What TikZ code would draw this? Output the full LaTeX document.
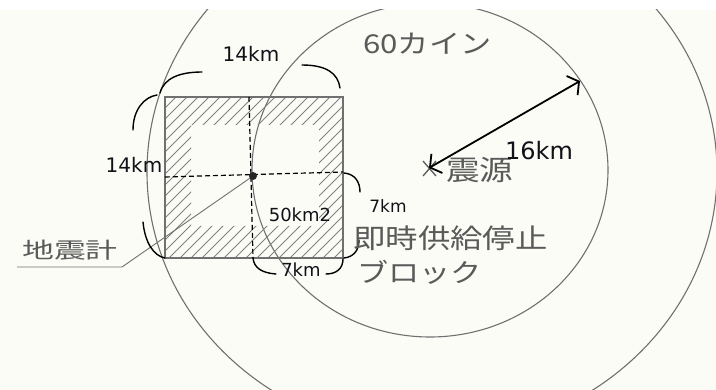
\documentclass[tikz,border=0pt]{standalone}
\usepackage{fontspec}
\usetikzlibrary{arrows.meta}
\newfontfamily\latf{DejaVu Sans}
\newfontfamily\cjka[FakeStretch=1.2]{Noto Sans CJK JP}
\newfontfamily\cjkb[FakeStretch=1.45]{Noto Sans CJK JP}
\definecolor{paper}{HTML}{FCFCF7}
\definecolor{pencil}{HTML}{707070}
\definecolor{hatchc}{HTML}{808080}
\definecolor{inkg}{HTML}{5A5A5A}
\definecolor{lbl}{HTML}{111118}
\begin{document}
\begin{tikzpicture}[x=1pt,y=-1pt,
  circ/.style={draw=pencil,line width=1.1pt},
  sqline/.style={draw=pencil,line width=1.1pt},
  hatchln/.style={draw=hatchc,line width=0.9pt},
  dashln/.style={draw=black,line width=1.2pt,dash pattern=on 5pt off 3pt},
  brace/.style={draw=black,line width=1.4pt,line cap=round},
  leader/.style={draw=pencil,line width=0.9pt},
  km/.style={font=\latf\fontsize{19}{19}\selectfont,text=lbl,inner sep=0pt},
  jp/.style={font=\cjka\fontsize{26}{26}\selectfont,text=inkg,inner sep=0pt},
  dbl/.style={draw=black,line width=1.8pt,{Straight Barb[length=8pt,width=22pt]}-{Straight Barb[length=8pt,width=22pt]}}
]
\useasboundingbox (0,0) rectangle (716,390);
\fill[white] (0,0) rectangle (716,390);
\fill[paper] (0,10) rectangle (716,390);
% circles (contours)
\begin{scope}
  \clip (0,10) rectangle (716,390);
  \draw[circ] (430,170) ellipse [x radius=178, y radius=167];
  \draw[circ] (432,172) ellipse [x radius=285, y radius=264];
\end{scope}
% hatched frame
\begin{scope}[even odd rule]
  \clip (165,97) rectangle (343,258) (191,125) rectangle (319,226);
  \foreach \a in {-25,-14,...,350} \draw[hatchln] (\a,265) -- ++(175,-175);
\end{scope}
\draw[sqline] (165,97) rectangle (343,258);
\draw[dashln] (249,97) -- (253,258);
\draw[dashln] (165,177) -- (343,172);
% seismometer point and leader
\coordinate (meter) at (253,176);
\coordinate (bend) at (122,267);
\coordinate (lend) at (17,267);
\draw[leader] (meter) -- (bend) -- (lend);
\fill[black!85] (meter) circle (4);
\node[jp,font=\cjkb\fontsize{22}{22}\selectfont,anchor=west] (seis) at (22,250) {地震計};
% braces: top
\draw[brace] (160,93) .. controls (164,78) and (180,72) .. (202,72);
\draw[brace] (302,65) .. controls (326,65) and (338,73) .. (340,88);
\node[km,font=\latf\fontsize{20}{20}\selectfont] (topkm) at (251,54) {14km};
% braces: left
\draw[brace] (133,130) .. controls (133,110) and (144,97) .. (157,95);
\draw[brace] (143,222) .. controls (145,243) and (154,256) .. (165,258);
\node[km,font=\latf\fontsize{20}{20}\selectfont] (leftkm) at (134,165) {14km};
% braces: right
\draw[brace] (344,173) .. controls (355,174) and (360,182) .. (360,192);
\draw[brace] (359,240) .. controls (359,251) and (353,257) .. (344,258);
\node[km,font=\latf\fontsize{17}{17}\selectfont] (rightkm) at (388,206) {7km};
% braces: bottom
\draw[brace] (253,258) .. controls (254,268) and (262,273) .. (276,274);
\draw[brace] (326,274) .. controls (337,274) and (343,268) .. (343,259);
\node[km,font=\latf\fontsize{18}{18}\selectfont] (botkm) at (301,270) {7km};
% area label
\node[km,font=\latf\fontsize{18}{18}\selectfont] (area) at (300,215) {50km2};
% epicentre
\coordinate (epi) at (429,168);
\coordinate (rim) at (580,81);
\draw[draw=inkg,line width=1.3pt] (423,161) -- (436,176) (423,176) -- (436,161);
\draw[dbl] (epi) -- (rim);
\node[jp,font=\cjka\fontsize{28}{28}\selectfont,anchor=west] (epilbl) at (446,170) {震源};
\node[km,font=\latf\fontsize{24}{24}\selectfont] (dist) at (539,151) {16km};
% other labels
\node[jp,anchor=west] (kine) at (363,44) {60カイン};
\node[jp,font=\cjka\fontsize{27}{27}\selectfont,anchor=west] (stop1) at (353,238) {即時供給停止};
\node[jp,anchor=west] (stop2) at (357,272) {ブロック};
\end{tikzpicture}
\end{document}
